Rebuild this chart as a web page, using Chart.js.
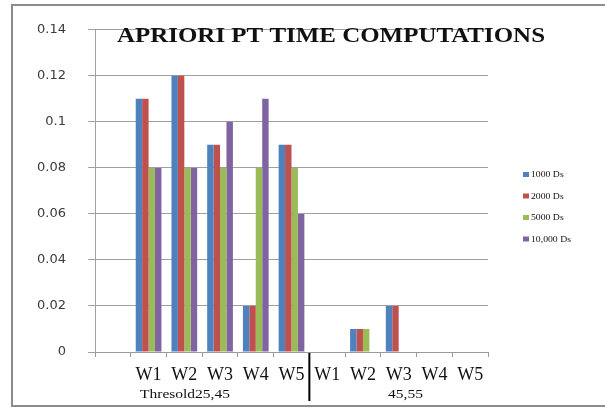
<!DOCTYPE html>
<html>
<head>
<meta charset="utf-8">
<script src="https://cdn.jsdelivr.net/npm/chart.js@4"></script>
<style>
html,body{margin:0;padding:0;background:#fff;}
#wrap{width:605px;height:407px;position:relative;}
</style>
</head>
<body>
<div id="wrap"><canvas id="c" width="605" height="407"></canvas></div>
<script>
const categories = ["", "W1", "W2", "W3", "W4", "W5", "W1", "W2", "W3", "W4", "W5"];
const seriesNames = ["1000 Ds", "2000 Ds", "5000 Ds", "10,000 Ds"];
const s1000  = [null, 0.11, 0.12, 0.09, 0.02, 0.09, 0, 0.01, 0.02, 0, 0];
const s2000  = [null, 0.11, 0.12, 0.09, 0.02, 0.09, 0, 0.01, 0.02, 0, 0];
const s5000  = [null, 0.08, 0.08, 0.08, 0.08, 0.08, 0, 0.01, 0, 0, 0];
const s10000 = [null, 0.08, 0.08, 0.10, 0.11, 0.06, 0, 0, 0, 0, 0];
const yTicks = [0, 0.02, 0.04, 0.06, 0.08, 0.1, 0.12, 0.14];
const groupLabels = ["Thresold25,45", "45,55"];
const titleText = "APRIORI PT TIME COMPUTATIONS";
const colors = ["#4F81BD", "#C0504D", "#9BBB59", "#8064A2"];

function drawStretched(ctx, text, x, y, targetWidth) {
  const w = ctx.measureText(text).width;
  const k = targetWidth / w;
  ctx.save();
  ctx.translate(x, y);
  ctx.scale(k, 1);
  ctx.fillText(text, 0, 0);
  ctx.restore();
}

const decor = {
  id: 'decor',
  beforeDraw(chart) {
    const ctx = chart.ctx;
    ctx.save();
    ctx.fillStyle = '#fff';
    ctx.fillRect(0, 0, chart.width, chart.height);
    ctx.strokeStyle = '#8c8c8c';
    ctx.lineWidth = 2;
    ctx.strokeRect(12, 5, 640, 401);
    ctx.restore();
  },
  afterDraw(chart) {
    const ctx = chart.ctx;
    const x = chart.scales.x;
    const area = chart.chartArea;
    ctx.save();
    // title
    ctx.fillStyle = '#111';
    ctx.font = 'bold 21px "Liberation Serif", serif';
    ctx.textAlign = 'left';
    ctx.textBaseline = 'alphabetic';
    drawStretched(ctx, titleText, 117, 42, 428);
    // divider between groups
    const xDiv = (x.getPixelForValue(5) + x.getPixelForValue(6)) / 2;
    ctx.strokeStyle = '#000';
    ctx.lineWidth = 2;
    ctx.beginPath();
    ctx.moveTo(xDiv, area.bottom + 1);
    ctx.lineTo(xDiv, 401);
    ctx.stroke();
    // group labels
    ctx.font = '12px "Liberation Serif", serif';
    ctx.fillStyle = '#111';
    ctx.textBaseline = 'middle';
    ctx.textAlign = 'left';
    drawStretched(ctx, groupLabels[0], 140, 395, 90);
    drawStretched(ctx, groupLabels[1], 388, 395, 35);
    // legend
    ctx.font = '9px "Liberation Serif", serif';
    chart.data.datasets.forEach((ds, i) => {
      const y = 175 + i * 21.5;
      ctx.fillStyle = ds.backgroundColor;
      ctx.fillRect(523, y - 3, 6, 5);
      ctx.fillStyle = '#111';
      const w = ctx.measureText(ds.label).width;
      drawStretched(ctx, ds.label, 531, y, w * 1.08);
    });
    ctx.restore();
  }
};

const datasets = [s1000, s2000, s5000, s10000].map((d, i) => ({
  label: seriesNames[i],
  data: d,
  backgroundColor: colors[i],
  borderWidth: 0,
  categoryPercentage: 0.72,
  barPercentage: 1.0
}));

new Chart(document.getElementById('c'), {
  type: 'bar',
  data: { labels: categories, datasets: datasets },
  options: {
    responsive: false,
    animation: false,
    devicePixelRatio: 1,
    layout: { padding: { left: 0, right: 117, top: 25, bottom: 0 } },
    plugins: {
      legend: { display: false },
      title: { display: false },
      tooltip: { enabled: false }
    },
    scales: {
      x: {
        offset: true,
        grid: {
          offset: true,
          drawOnChartArea: false,
          drawTicks: true,
          tickLength: 5,
          color: '#9a9a9a'
        },
        border: { display: true, color: '#9a9a9a', width: 1 },
        ticks: {
          color: '#111',
          font: { family: '"Liberation Serif", serif', size: 18 },
          padding: 7,
          maxRotation: 0,
          autoSkip: false
        },
        afterFit(s) { s.height = 407 - 352; }
      },
      y: {
        min: 0,
        max: 0.14,
        afterBuildTicks(s) { s.ticks = yTicks.map(v => ({ value: v })); },
        grid: {
          color: '#a0a0a0',
          lineWidth: 1,
          drawTicks: true,
          tickLength: 7
        },
        border: { display: true, color: '#a0a0a0', width: 1 },
        ticks: {
          color: '#3a3a3a',
          font: { family: '"DejaVu Sans", sans-serif', size: 13 },
          padding: 22,
          callback: v => String(v)
        },
        afterFit(s) { s.width = 95; }
      }
    }
  },
  plugins: [decor]
});
</script>
</body>
</html>
